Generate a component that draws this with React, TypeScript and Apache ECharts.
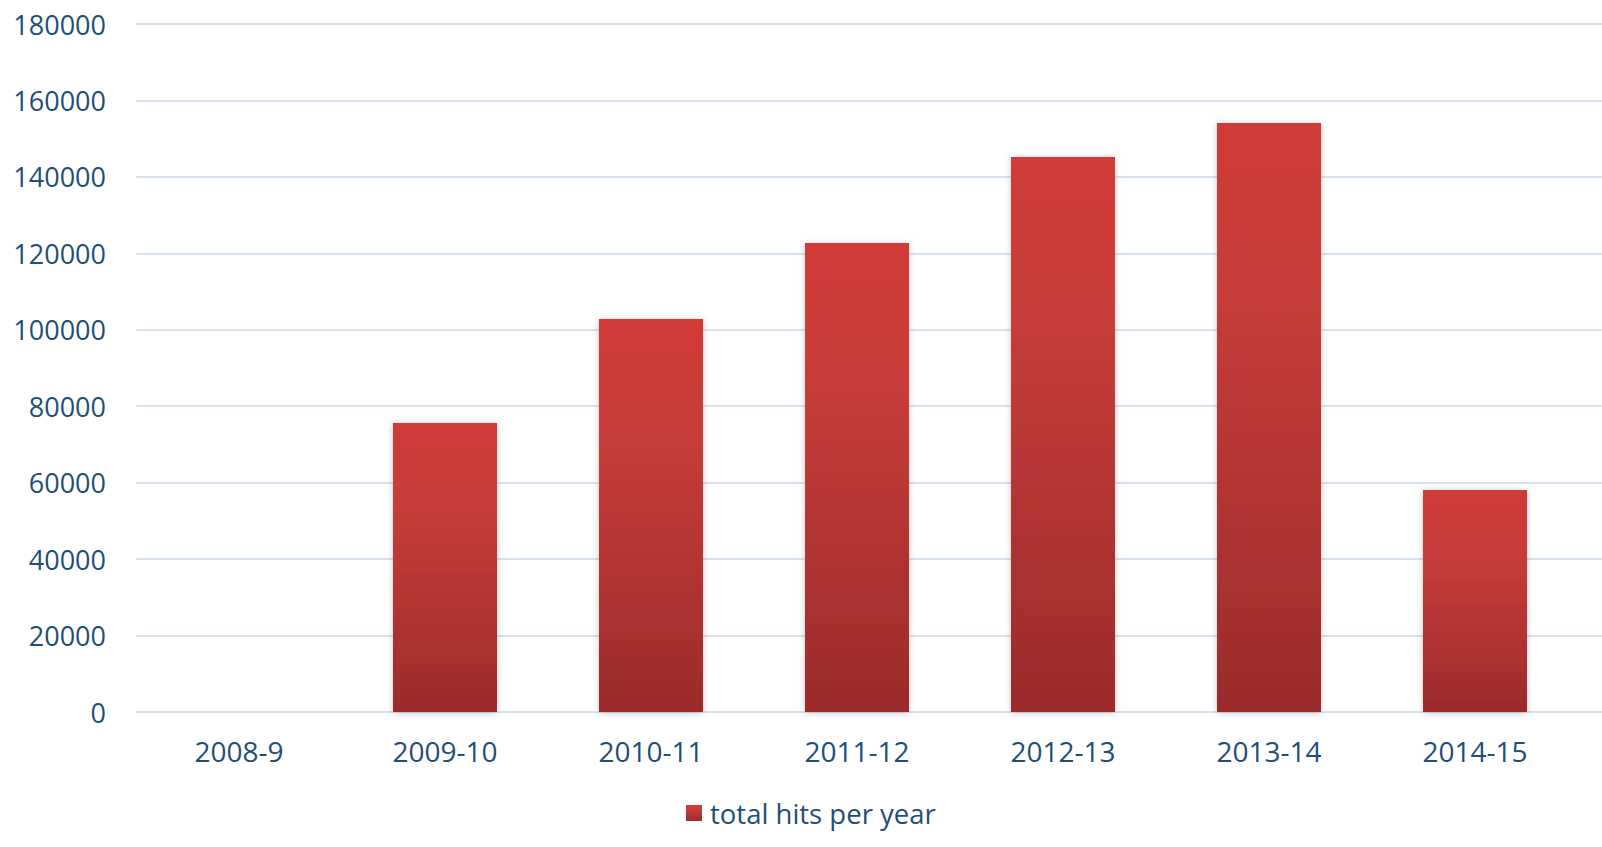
import React, { useEffect, useRef } from "react";
import * as echarts from "echarts";

const categories = ["2008-9", "2009-10", "2010-11", "2011-12", "2012-13", "2013-14", "2014-15"];
const hits = [0, 75600, 102800, 122700, 145200, 154100, 58100];
const seriesName = "total hits per year";

const TEXT = "#1f4e79";
const FONT = "'Open Sans', sans-serif";

export default function App() {
  const ref = useRef<HTMLDivElement>(null);
  useEffect(() => {
    if (!ref.current) return;
    const chart = echarts.init(ref.current, null, { renderer: "svg" });
    const barGrad = new echarts.graphic.LinearGradient(0, 0, 0, 1, [
      { offset: 0, color: "#d03b38" },
      { offset: 0.3, color: "#c73c3a" },
      { offset: 1, color: "#9b2b2b" },
    ]);
    chart.setOption({
      animation: false,
      grid: [
        { left: 136, right: 24, top: 24, bottom: 135 },
        { left: 136, right: 0, top: 24, bottom: 135 },
      ],
      legend: {
        left: 681,
        top: 794,
        itemWidth: 16,
        itemHeight: 16,
        itemGap: 8,
        icon: "rect",
        textStyle: { color: TEXT, fontSize: 27.5, fontFamily: FONT, padding: [0, 0, 0, 3] },
        data: [seriesName],
      },
      xAxis: [
        {
          type: "category",
          gridIndex: 0,
          data: categories,
          axisLine: { show: false },
          axisTick: { show: false },
          axisLabel: { color: TEXT, fontSize: 28, fontFamily: FONT, margin: 25 },
        },
        {
          type: "category",
          gridIndex: 1,
          data: categories,
          show: false,
        },
      ],
      yAxis: [
        {
          type: "value",
          gridIndex: 0,
          min: 0,
          max: 180000,
          interval: 20000,
          axisLine: { show: false },
          axisTick: { show: false },
          splitLine: { show: false },
          axisLabel: {
            color: TEXT,
            fontSize: 27,
            fontFamily: FONT,
            margin: 30,
            formatter: (v: number) => String(v),
          },
        },
        {
          type: "value",
          gridIndex: 1,
          min: 0,
          max: 180000,
          interval: 20000,
          axisLine: { show: false },
          axisTick: { show: false },
          axisLabel: { show: false },
          splitLine: { show: true, lineStyle: { color: "#d6e2f0", width: 2 } },
        },
      ],
      series: [
        {
          name: seriesName,
          type: "bar",
          xAxisIndex: 0,
          yAxisIndex: 0,
          data: hits,
          barWidth: "50.5%",
          itemStyle: {
            color: barGrad,
            shadowBlur: 6,
            shadowColor: "rgba(0,0,0,0.22)",
            shadowOffsetX: 0,
            shadowOffsetY: 1,
          },
          z: 3,
        },
      ],
    });
    return () => chart.dispose();
  }, []);
  return (
    <div
      ref={ref}
      style={{ position: "fixed", left: 0, top: 0, width: 1602, height: 847, background: "#fff" }}
    />
  );
}
